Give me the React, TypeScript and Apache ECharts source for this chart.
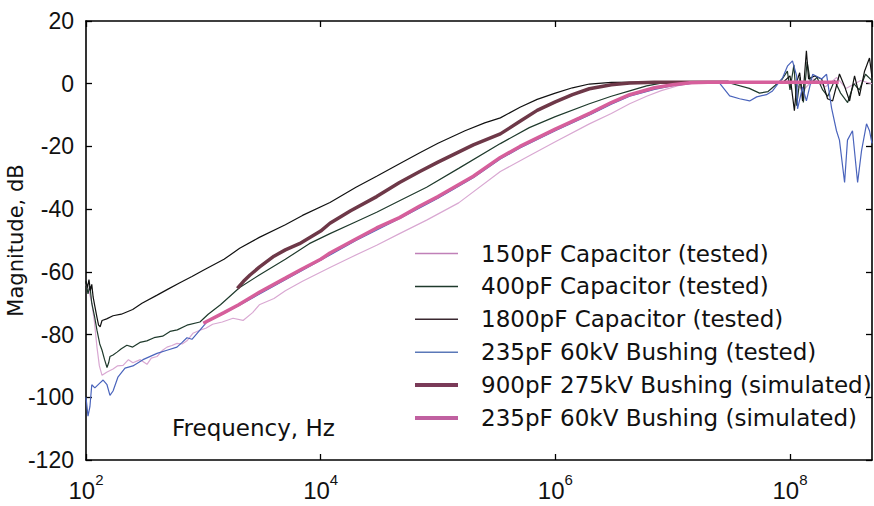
import React, { useEffect, useRef } from 'react';
import * as echarts from 'echarts';

const FONT = '"Liberation Sans", Arial, Helvetica, sans-serif';
const FONT_WIDE = '"DejaVu Sans", "Liberation Sans", Arial, sans-serif';

const seriesNames = [
  '150pF Capacitor (tested)',
  '400pF Capacitor (tested)',
  '1800pF Capacitor (tested)',
  '235pF 60kV Bushing (tested)',
  '900pF 275kV Bushing (simulated)',
  '235pF 60kV Bushing (simulated)',
];

const yTicks = { min: -120, max: 20, step: 20 };
const xDecades = { min: 100, max: 5e8, step: 2 };

// [frequency Hz, magnitude dB]
const cap150: [number, number][] = [
  [100, -64], [106, -66], [112, -70], [118, -76], [124, -84], [130, -90], [137, -93], [150, -92],
  [170, -91], [185, -90], [207, -89.8], [230, -88], [251, -89], [290, -88], [331, -89.5], [360, -87.5],
  [403, -87], [450, -85], [490, -84], [540, -83.5], [596, -82.8], [660, -83], [725, -82], [815, -79.6],
  [935, -78.6], [1050, -78], [1200, -76.7], [1450, -76], [1790, -74.8], [2180, -75.5], [2630, -73],
  [3000, -70.5], [4000, -68.5], [5000, -66], [7000, -63], [12000, -58.6], [18000, -55.4], [30000, -51.5],
  [47000, -47.8], [80000, -43.5], [150000, -38], [340000, -28], [600000, -23], [1e6, -18.5],
  [1.95e6, -12.8], [3e6, -9.5], [4.3e6, -6.4], [6e6, -4], [8e6, -2.2], [1.15e7, -0.5], [1.6e7, 0.3],
  [2.5e7, 0.5], [4e7, 0.4], [6e7, 0.5], [8e7, 0.3], [1e8, 1], [1.3e8, -2], [1.6e8, 1.5], [2e8, -1],
  [2.5e8, 2], [3e8, -1.5], [4e8, 1], [5e8, 0],
];

const cap400: [number, number][] = [
  [100, -63], [104, -67], [108, -64.5], [112, -70], [118, -74], [124, -78.6], [131, -83], [137, -85],
  [144, -88], [151, -90.5], [156, -89], [160, -87], [170, -86.5], [184, -85.6], [200, -84.5], [223, -83.4],
  [250, -84], [288, -82.5], [330, -82], [380, -81], [450, -80.5], [520, -79], [600, -78.5], [725, -77],
  [935, -76], [1100, -73.5], [1400, -70.5], [2040, -65], [3000, -61], [5000, -56], [8000, -51],
  [12000, -47.8], [20000, -44], [30000, -41], [47000, -37.3], [80000, -33], [150000, -27], [340000, -19.1],
  [600000, -14], [1e6, -10.5], [1.95e6, -6.4], [3e6, -4], [4.3e6, -2.3], [6e6, -0.7], [8e6, 0.2],
  [1.5e7, 0.5], [3e7, 0.3], [4.5e7, -1.5], [5.5e7, -3], [6.5e7, -2.5], [7.5e7, -0.5], [8.6e7, 1.5],
  [9.5e7, 4], [1.0e8, -2], [1.08e8, 6], [1.14e8, -7], [1.22e8, 2], [1.3e8, -6], [1.4e8, 7], [1.5e8, 0],
  [1.7e8, 2], [1.9e8, -2], [2.1e8, -4], [2.4e8, 1], [2.7e8, -3], [3.1e8, -6], [3.5e8, 0], [3.9e8, -2],
  [4.4e8, 3], [5e8, 1],
];

const cap1800: [number, number][] = [
  [100, -63], [103, -65], [106, -62.5], [109, -66], [112, -64], [115, -68], [119, -71], [124, -74.5],
  [128, -77], [132, -77.5], [137, -75.5], [150, -75], [170, -74], [200, -73.5], [250, -72], [300, -70],
  [400, -67.5], [500, -65.5], [631, -63.5], [800, -61.5], [1000, -59.5], [1500, -56], [2040, -52.5],
  [3000, -49], [5000, -45], [7000, -42], [12000, -37.9], [20000, -33], [30000, -29.5], [47000, -25.5],
  [70000, -22], [100000, -19], [170000, -15], [250000, -12.5], [340000, -10.9], [500000, -7.5],
  [700000, -5], [1e6, -3], [1.4e6, -1.3], [1.95e6, -0.1], [3e6, 0.4], [6e6, 0.5], [1.2e7, 0.5],
  [2.5e7, 0.4], [4.5e7, 0.2], [6.5e7, 0.3], [8.65e7, 0.3], [1.0e8, 2.5], [1.09e8, -8.6], [1.15e8, 1],
  [1.21e8, 3.5], [1.28e8, -5.5], [1.38e8, 10.5], [1.44e8, 1.5], [1.62e8, 2.5], [1.86e8, 1.5],
  [2.09e8, -4.8], [2.31e8, -5.5], [2.64e8, 3.1], [2.91e8, -0.7], [3.22e8, -5.5], [3.55e8, 2.5],
  [3.91e8, -3.9], [4.32e8, 4], [4.76e8, 8.2], [5e8, 2],
];

const bush235Tested: [number, number][] = [
  [100, -100], [104, -106], [108, -103], [112, -96], [119, -97], [131, -95.5], [140, -94.5], [151, -96],
  [160, -99.4], [170, -98], [187, -93.6], [215, -90.7], [251, -90], [306, -88], [403, -86], [490, -85],
  [596, -84], [660, -82.5], [725, -81], [800, -81.5], [935, -78.6], [1070, -76], [2000, -70.8],
  [5000, -62.5], [10000, -56.3], [20000, -50], [50000, -42.5], [100000, -36.5], [200000, -30],
  [340000, -24], [500000, -20.5], [1e6, -15], [2e6, -9.8], [3e6, -6.5], [4.3e6, -4], [7e6, -1.8],
  [1e7, -0.6], [1.5e7, 0.2], [2.5e7, 0.3], [3.06e7, -3.9], [3.72e7, -4.8], [4.53e7, -5.5], [5.2e7, -4.2],
  [6.3e7, -3.5], [7.1e7, -2.3], [8.65e7, 1.9], [9.55e7, 5.7], [1.05e8, 7.3], [1.14e8, 2.5], [1.16e8, -8],
  [1.28e8, -1], [1.38e8, -5.5], [1.56e8, 3], [1.86e8, 1.5], [2.05e8, 3], [2.26e8, -7.7], [2.49e8, -15],
  [2.64e8, -18], [2.92e8, -31.5], [3.09e8, -18], [3.41e8, -15], [3.77e8, -31.5], [4.07e8, -21.4],
  [4.49e8, -12.8], [4.76e8, -15], [5e8, -19],
];

const bush900Sim: [number, number][] = [
  [1950, -65.3], [2200, -63], [2500, -61], [3000, -58.5], [4000, -55], [5000, -53], [6600, -51],
  [10000, -47], [12000, -44.5], [18000, -40.5], [30000, -36], [47000, -31.5], [70000, -28], [100000, -25],
  [200000, -19.5], [340000, -16], [500000, -12], [700000, -8.5], [1e6, -5.8], [1.4e6, -3.5],
  [1.95e6, -1.6], [3e6, -0.3], [4.3e6, 0.2], [7e6, 0.5], [1.5e7, 0.5], [3e7, 0.5],
];

const bush235Sim: [number, number][] = [
  [1000, -76.4], [1500, -73], [2000, -70.5], [3000, -66.5], [5000, -62], [7000, -59], [10000, -56],
  [12000, -54], [20000, -49.5], [30000, -46], [47000, -42.7], [70000, -39], [100000, -36], [200000, -29.5],
  [340000, -23.5], [500000, -20], [1e6, -14.5], [1.6e6, -11], [2e6, -9.3], [3e6, -6], [4.3e6, -3.5],
  [7e6, -1.3], [1e7, -0.3], [1.4e7, 0.3], [2e7, 0.5], [1e8, 0.5], [2.6e8, 0.5],
];

const seriesData = [cap150, cap400, cap1800, bush235Tested, bush900Sim, bush235Sim];
const seriesColors = ['#d9a8d2', '#1f3a2c', '#111111', '#4a64bc', '#6e3848', '#d65f9b'];
const legendColors = ['#c080b8', '#1f3a2c', '#3a2830', '#5a78b8', '#7a3a58', '#c060a0'];
const seriesWidths = [1.2, 1.2, 1.2, 1.2, 3.5, 3.5];

const toLog = (pts: [number, number][]) => pts.map(([f, v]) => [Math.log10(f), v]);

export default function App() {
  const ref = useRef<HTMLDivElement>(null);
  useEffect(() => {
    const chart = echarts.init(ref.current!, null, { renderer: 'svg' });
    const xMin = Math.log10(xDecades.min);
    const xMax = Math.log10(xDecades.max);
    const axisLine = { show: true, onZero: false, lineStyle: { color: '#000', width: 1.6 } };
    const axisTick = { show: true, inside: true, length: 6, lineStyle: { color: '#000', width: 1.3 } };
    const rowGap = 32.9;
    const legendTop = 237;
    const legendCommon = {
      orient: 'vertical', left: 410, itemWidth: 43, itemGap: rowGap - 23, icon: 'rect',
      textStyle: { fontSize: 23, fontFamily: FONT_WIDE, color: '#111', padding: [0, 0, 0, 18] },
      inactiveColor: '#ccc',
    };
    const option: any = {
      animation: false,
      backgroundColor: '#fff',
      textStyle: { fontFamily: FONT },
      grid: { left: 86, right: 2, top: 21, bottom: 46, containLabel: false, outerBoundsMode: 'none' },
      xAxis: [
        {
          type: 'value', min: xMin, max: xMax, interval: xDecades.step,
          axisLine, axisTick, splitLine: { show: false },
          axisLabel: {
            margin: 12, color: '#111', showMaxLabel: false,
            formatter: (v: number) => {
              const e = Math.round(v);
              if (Math.abs(v - e) > 1e-6) return '';
              return `{b|10}{s|${e}}`;
            },
            rich: {
              b: { fontSize: 24, fontFamily: FONT, color: '#111', verticalAlign: 'bottom', lineHeight: 30 },
              s: { fontSize: 15, fontFamily: FONT, color: '#111', verticalAlign: 'top', lineHeight: 15 },
            },
          },
        },
        {
          type: 'value', position: 'top', min: xMin, max: xMax, interval: xDecades.step,
          axisLine, axisTick, axisLabel: { show: false }, splitLine: { show: false },
        },
      ],
      yAxis: [
        {
          type: 'value', min: yTicks.min, max: yTicks.max, interval: yTicks.step,
          axisLine, axisTick, splitLine: { show: false },
          axisLabel: { margin: 12, color: '#111', fontSize: 23, fontFamily: FONT },
          name: 'Magnitude, dB', nameLocation: 'middle', nameGap: 60, nameMoveOverlap: false,
          nameTextStyle: { fontSize: 21, fontFamily: FONT_WIDE, color: '#111' },
        },
        {
          type: 'value', position: 'right', min: yTicks.min, max: yTicks.max, interval: yTicks.step,
          axisLine, axisTick, axisLabel: { show: false }, splitLine: { show: false },
        },
      ],
      legend: [
        {
          ...legendCommon, top: legendTop, itemHeight: 1.5,
          data: seriesNames.slice(0, 4).map((n, i) => ({ name: n, itemStyle: { color: legendColors[i] } })),
        },
        {
          ...legendCommon, top: legendTop + rowGap * 4, itemHeight: 4,
          data: seriesNames.slice(4).map((n, i) => ({ name: n, itemStyle: { color: legendColors[i + 4] } })),
        },
      ],
      graphic: [
        {
          type: 'text', left: 172, top: 416,
          style: { text: 'Frequency, Hz', fontSize: 23, fontFamily: FONT_WIDE, fill: '#111' },
        },
      ],
      series: seriesNames.map((n, i) => ({
        name: n, type: 'line', symbol: 'none', data: toLog(seriesData[i]),
        lineStyle: { color: seriesColors[i], width: seriesWidths[i] },
        itemStyle: { color: seriesColors[i] },
        z: 2 + i,
      })),
    };
    chart.setOption(option);
    return () => chart.dispose();
  }, []);
  return <div ref={ref} style={{ position: 'fixed', left: 0, top: 0, width: 874, height: 506 }} />;
}
